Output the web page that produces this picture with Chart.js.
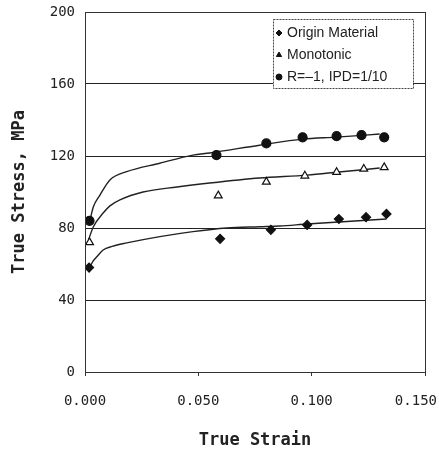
<!DOCTYPE html>
<html>
<head>
<meta charset="utf-8">
<script src="https://cdn.jsdelivr.net/npm/chart.js@4/dist/chart.umd.min.js"></script>
<style>
  html, body { margin: 0; padding: 0; background: #fff; }
  #wrap { width: 439px; height: 452px; }
</style>
</head>
<body>
<div id="wrap"><canvas id="stressChart" width="439" height="452"></canvas></div>
<script>
// measured points, [strain, stress MPa]
var originPts = [[0.0018, 58], [0.0596, 74], [0.082, 79], [0.098, 81.7], [0.112, 85], [0.124, 86], [0.133, 87.8]];
var monoPts = [[0.002, 72], [0.0588, 98], [0.080, 105.6], [0.097, 109], [0.111, 111], [0.123, 112.8], [0.132, 113.7]];
var cyclicPts = [[0.002, 84], [0.058, 120.5], [0.080, 127], [0.096, 130.4], [0.111, 131], [0.122, 131.6], [0.132, 130.4]];

// fitted curves
var originFit = [[0.0022, 58.5], [0.0035, 61.5], [0.0052, 64], [0.008, 67.8], [0.012, 69.8], [0.0184, 71.7], [0.033, 75.2], [0.0476, 78], [0.0625, 80], [0.077, 80.7], [0.086, 81.1], [0.098, 82.2], [0.112, 83.3], [0.133, 85]];
var monoFit = [[0.0015, 73.3], [0.0037, 80.7], [0.008, 88.3], [0.011, 92.3], [0.0154, 95.6], [0.0256, 100], [0.0406, 102.8], [0.055, 105], [0.077, 107.8], [0.098, 109.4], [0.112, 111.1], [0.130, 113.3]];
var cyclicFit = [[0.0022, 84.4], [0.0037, 91.8], [0.0066, 98.3], [0.011, 106.7], [0.0184, 111.3], [0.033, 116], [0.0476, 120.5], [0.055, 121.7], [0.077, 126], [0.096, 129.4], [0.111, 130.5], [0.130, 132.2]];

var legendNames = ['Origin Material', 'Monotonic', 'R=\u20131, IPD=1/10'];
var yTicks = [0, 40, 80, 120, 160, 200];
var xTicks = [0, 0.05, 0.1, 0.15];

function toXY(arr) {
  return arr.map(function (p) { return { x: p[0], y: p[1] }; });
}

function pointSet(label, pts, style, fill) {
  return {
    label: label,
    data: toXY(pts),
    showLine: false,
    pointStyle: style,
    pointRadius: 4.5,
    pointBackgroundColor: fill,
    pointBorderColor: '#111',
    pointBorderWidth: 1.2
  };
}

function curveSet(pts) {
  return {
    label: '',
    data: toXY(pts),
    showLine: true,
    pointRadius: 0,
    borderColor: '#222',
    borderWidth: 1.4,
    cubicInterpolationMode: 'monotone',
    fill: false
  };
}

// keep the last strain label inside the canvas, like the scan
var lastLabelPlugin = {
  id: 'lastLabel',
  beforeDraw: function (chart) {
    var items = chart.scales.x.getLabelItems();
    var last = items[items.length - 1];
    if (last && last.options.textAlign != 'right') {
      last.options.textAlign = 'right';
      last.options.translation[0] = chart.width - 2;
    }
  }
};

// frame round the plot plus the boxed legend in the top right corner
var framePlugin = {
  id: 'frame',
  afterDraw: function (chart) {
    var ctx = chart.ctx, a = chart.chartArea;
    ctx.save();
    ctx.strokeStyle = '#333';
    ctx.lineWidth = 1;
    ctx.strokeRect(a.left + 0.5, a.top + 0.5, a.right - a.left, a.bottom - a.top);

    var bx = a.right - 152, by = a.top + 7, bw = 140, bh = 69;
    ctx.fillStyle = '#fff';
    ctx.fillRect(bx, by, bw, bh);
    ctx.setLineDash([2, 1]);
    ctx.strokeStyle = '#444';
    ctx.strokeRect(bx + 0.5, by + 0.5, bw, bh);
    ctx.setLineDash([]);

    ctx.font = '14px "Liberation Sans", Arial, sans-serif';
    ctx.textBaseline = 'middle';
    var markers = chart.data.datasets.slice(0, 3);
    for (var i = 0; i < 3; i++) {
      var ly = by + 14 + i * 22;
      var ds = markers[i];
      ctx.fillStyle = i == 1 ? '#111' : ds.pointBackgroundColor;
      ctx.strokeStyle = '#111';
      ctx.lineWidth = 1;
      Chart.helpers.drawPoint(ctx, { pointStyle: ds.pointStyle, radius: 3, borderWidth: 1 }, bx + 6, ly);
      ctx.fillStyle = '#222';
      ctx.fillText(legendNames[i], bx + 14, ly);
    }
    ctx.restore();
  }
};

var config = {
  type: 'scatter',
  data: {
    datasets: [
      pointSet(legendNames[0], originPts, 'rectRot', '#111'),
      pointSet(legendNames[1], monoPts, 'triangle', '#fff'),
      pointSet(legendNames[2], cyclicPts, 'circle', '#111'),
      curveSet(originFit),
      curveSet(monoFit),
      curveSet(cyclicFit)
    ]
  },
  options: {
    responsive: false,
    animation: false,
    layout: { padding: { top: 12, right: 14, left: 0, bottom: 0 } },
    plugins: {
      legend: { display: false },
      tooltip: { enabled: false }
    },
    scales: {
      x: {
        type: 'linear',
        min: 0,
        max: 0.15,
        afterBuildTicks: function (s) { s.ticks = xTicks.map(function (v) { return { value: v }; }); },
        afterFit: function (s) { s.height = 80; s.paddingLeft = 0; s.paddingRight = 0; },
        grid: { drawOnChartArea: false, tickLength: 4, color: '#333' },
        border: { display: false },
        ticks: {
          color: '#222',
          padding: 17,
          maxRotation: 0,
          font: { family: '"DejaVu Sans Mono", monospace', size: 14 },
          callback: function (v) { return v.toFixed(3); }
        },
        title: {
          display: true,
          text: 'True Strain',
          color: '#222',
          padding: { top: 0, bottom: 1 },
          font: { family: '"DejaVu Sans Mono", monospace', size: 17, weight: 'bold' }
        }
      },
      y: {
        min: 0,
        max: 200,
        afterBuildTicks: function (s) { s.ticks = yTicks.map(function (v) { return { value: v }; }); },
        afterFit: function (s) { s.width = 85; s.paddingTop = 0; s.paddingBottom = 0; },
        grid: { color: '#222', lineWidth: 1, tickLength: 0 },
        border: { display: false },
        ticks: {
          color: '#222',
          padding: 10,
          font: { family: '"DejaVu Sans Mono", monospace', size: 14 }
        },
        title: {
          display: true,
          text: 'True Stress, MPa',
          color: '#222',
          padding: { top: 9, bottom: 0 },
          font: { family: '"DejaVu Sans Mono", monospace', size: 17, weight: 'bold' }
        }
      }
    }
  },
  plugins: [lastLabelPlugin, framePlugin]
};

new Chart(document.getElementById('stressChart'), config);
</script>
</body>
</html>
